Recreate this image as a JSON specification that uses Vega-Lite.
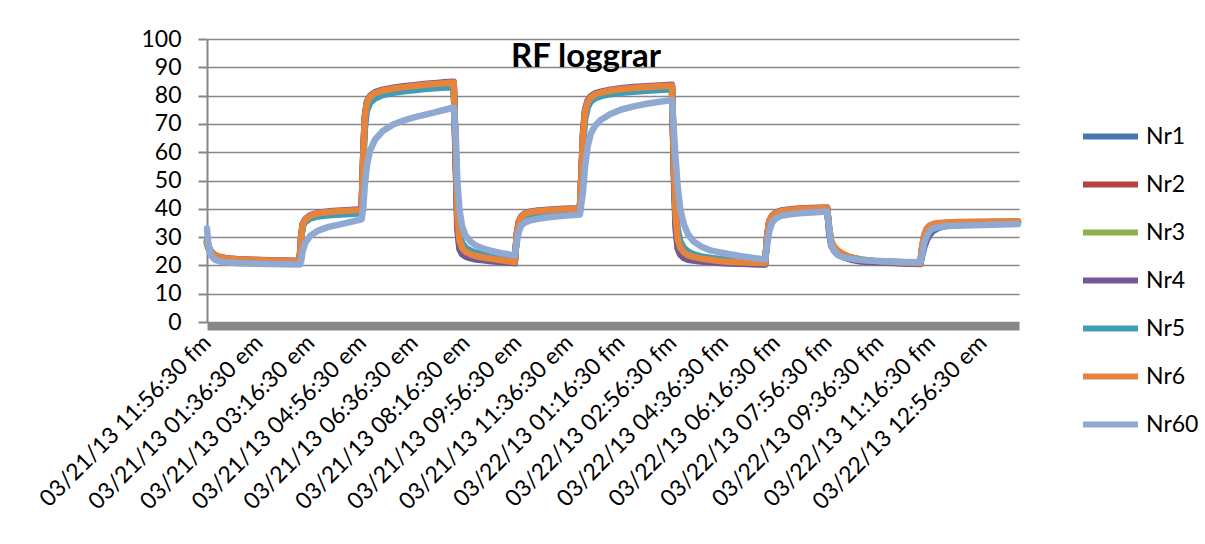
{
  "$schema": "https://vega.github.io/schema/vega-lite/v6.json",
  "width": 812,
  "height": 283,
  "autosize": {"type": "none"},
  "padding": {"left": 207, "top": 39, "right": 186, "bottom": 222},
  "background": "#ffffff",
  "title": {
    "text": "RF loggrar",
    "font": "Lato",
    "fontSize": 33,
    "fontWeight": "bold",
    "color": "#000000",
    "anchor": "start",
    "frame": "group",
    "baseline": "top",
    "dx": 304,
    "offset": -46
  },
  "config": {
    "view": {"stroke": null},
    "font": "Lato"
  },
  "data": {
    "values": [
      {"t": "2013-03-21T11:56:30", "Nr1": 28.2, "Nr2": 28.4, "Nr3": 27.5, "Nr4": 28.8, "Nr5": 28, "Nr6": 28.5, "Nr60": 33},
      {"t": "2013-03-21T11:59:30", "Nr1": 26.2, "Nr2": 26.4, "Nr3": 26, "Nr4": 26.6, "Nr5": 26, "Nr6": 26.5, "Nr60": 27},
      {"t": "2013-03-21T12:04:30", "Nr1": 24.5, "Nr2": 24.7, "Nr3": 24.4, "Nr4": 24.9, "Nr5": 24.5, "Nr6": 24.8, "Nr60": 23.5},
      {"t": "2013-03-21T12:11:30", "Nr1": 23.3, "Nr2": 23.5, "Nr3": 23.2, "Nr4": 23.7, "Nr5": 23.3, "Nr6": 23.6, "Nr60": 22},
      {"t": "2013-03-21T12:21:30", "Nr1": 22.6, "Nr2": 22.8, "Nr3": 22.5, "Nr4": 23.0, "Nr5": 22.6, "Nr6": 22.9, "Nr60": 21.4},
      {"t": "2013-03-21T12:36:30", "Nr1": 22.1, "Nr2": 22.3, "Nr3": 22.0, "Nr4": 22.5, "Nr5": 22.2, "Nr6": 22.4, "Nr60": 21.0},
      {"t": "2013-03-21T12:56:30", "Nr1": 21.8, "Nr2": 22.0, "Nr3": 21.7, "Nr4": 22.2, "Nr5": 21.9, "Nr6": 22.1, "Nr60": 20.8},
      {"t": "2013-03-21T13:26:30", "Nr1": 21.6, "Nr2": 21.8, "Nr3": 21.5, "Nr4": 22.0, "Nr5": 21.7, "Nr6": 21.9, "Nr60": 20.6},
      {"t": "2013-03-21T13:56:30", "Nr1": 21.4, "Nr2": 21.6, "Nr3": 21.3, "Nr4": 21.8, "Nr5": 21.5, "Nr6": 21.7, "Nr60": 20.5},
      {"t": "2013-03-21T14:26:30", "Nr1": 21.3, "Nr2": 21.5, "Nr3": 21.2, "Nr4": 21.7, "Nr5": 21.4, "Nr6": 21.6, "Nr60": 20.4},
      {"t": "2013-03-21T14:55:30", "Nr1": 21.2, "Nr2": 21.4, "Nr3": 21.1, "Nr4": 21.6, "Nr5": 21.3, "Nr6": 21.5, "Nr60": 20.3},
      {"t": "2013-03-21T14:58:30", "Nr1": 29.5, "Nr2": 30, "Nr3": 29.6, "Nr4": 30.3, "Nr5": 29.3, "Nr6": 30, "Nr60": 21.5},
      {"t": "2013-03-21T15:01:30", "Nr1": 34.2, "Nr2": 34.4, "Nr3": 34.1, "Nr4": 34.7, "Nr5": 33.8, "Nr6": 34.5, "Nr60": 25},
      {"t": "2013-03-21T15:06:30", "Nr1": 35.9, "Nr2": 36.1, "Nr3": 35.8, "Nr4": 36.4, "Nr5": 35.3, "Nr6": 36.2, "Nr60": 28},
      {"t": "2013-03-21T15:16:30", "Nr1": 37.3, "Nr2": 37.5, "Nr3": 37.2, "Nr4": 37.8, "Nr5": 36.6, "Nr6": 37.6, "Nr60": 30.5},
      {"t": "2013-03-21T15:31:30", "Nr1": 38.1, "Nr2": 38.3, "Nr3": 38.0, "Nr4": 38.6, "Nr5": 37.3, "Nr6": 38.4, "Nr60": 32.3},
      {"t": "2013-03-21T15:51:30", "Nr1": 38.6, "Nr2": 38.8, "Nr3": 38.5, "Nr4": 39.1, "Nr5": 37.7, "Nr6": 38.9, "Nr60": 33.6},
      {"t": "2013-03-21T16:16:30", "Nr1": 38.9, "Nr2": 39.1, "Nr3": 38.8, "Nr4": 39.4, "Nr5": 38.0, "Nr6": 39.2, "Nr60": 34.6},
      {"t": "2013-03-21T16:55:30", "Nr1": 39.3, "Nr2": 39.5, "Nr3": 39.2, "Nr4": 39.8, "Nr5": 38.4, "Nr6": 39.6, "Nr60": 36.3},
      {"t": "2013-03-21T16:58:30", "Nr1": 57, "Nr2": 58, "Nr3": 57.5, "Nr4": 59, "Nr5": 54, "Nr6": 58, "Nr60": 40},
      {"t": "2013-03-21T17:01:30", "Nr1": 71.5, "Nr2": 72, "Nr3": 71.5, "Nr4": 72.5, "Nr5": 68, "Nr6": 72, "Nr60": 48},
      {"t": "2013-03-21T17:05:30", "Nr1": 77.2, "Nr2": 77.4, "Nr3": 77.1, "Nr4": 77.8, "Nr5": 74.5, "Nr6": 77.5, "Nr60": 55},
      {"t": "2013-03-21T17:11:30", "Nr1": 79.3, "Nr2": 79.5, "Nr3": 79.2, "Nr4": 79.9, "Nr5": 77.3, "Nr6": 79.6, "Nr60": 60.5},
      {"t": "2013-03-21T17:21:30", "Nr1": 80.6, "Nr2": 80.8, "Nr3": 80.5, "Nr4": 81.2, "Nr5": 79.0, "Nr6": 80.9, "Nr60": 64.5},
      {"t": "2013-03-21T17:36:30", "Nr1": 81.5, "Nr2": 81.7, "Nr3": 81.4, "Nr4": 82.1, "Nr5": 80.2, "Nr6": 81.8, "Nr60": 67.5},
      {"t": "2013-03-21T17:56:30", "Nr1": 82.2, "Nr2": 82.4, "Nr3": 82.1, "Nr4": 82.8, "Nr5": 81.0, "Nr6": 82.5, "Nr60": 69.8},
      {"t": "2013-03-21T18:16:30", "Nr1": 82.7, "Nr2": 82.9, "Nr3": 82.6, "Nr4": 83.3, "Nr5": 81.5, "Nr6": 83.0, "Nr60": 71.2},
      {"t": "2013-03-21T18:36:30", "Nr1": 83.1, "Nr2": 83.3, "Nr3": 83.0, "Nr4": 83.7, "Nr5": 81.9, "Nr6": 83.4, "Nr60": 72.3},
      {"t": "2013-03-21T18:56:30", "Nr1": 83.5, "Nr2": 83.7, "Nr3": 83.4, "Nr4": 84.1, "Nr5": 82.3, "Nr6": 83.8, "Nr60": 73.2},
      {"t": "2013-03-21T19:16:30", "Nr1": 83.8, "Nr2": 84.0, "Nr3": 83.7, "Nr4": 84.4, "Nr5": 82.6, "Nr6": 84.1, "Nr60": 74.1},
      {"t": "2013-03-21T19:36:30", "Nr1": 84.1, "Nr2": 84.3, "Nr3": 84.0, "Nr4": 84.7, "Nr5": 82.9, "Nr6": 84.4, "Nr60": 75.0},
      {"t": "2013-03-21T19:53:30", "Nr1": 84.3, "Nr2": 84.5, "Nr3": 84.2, "Nr4": 84.9, "Nr5": 83.1, "Nr6": 84.6, "Nr60": 75.8},
      {"t": "2013-03-21T19:57:30", "Nr1": 57, "Nr2": 59, "Nr3": 58.5, "Nr4": 55, "Nr5": 62, "Nr6": 60, "Nr60": 66},
      {"t": "2013-03-21T20:00:30", "Nr1": 35, "Nr2": 37.5, "Nr3": 37, "Nr4": 33, "Nr5": 42, "Nr6": 38, "Nr60": 50},
      {"t": "2013-03-21T20:04:30", "Nr1": 27, "Nr2": 28.6, "Nr3": 28.2, "Nr4": 25.8, "Nr5": 32, "Nr6": 29, "Nr60": 40},
      {"t": "2013-03-21T20:09:30", "Nr1": 24.8, "Nr2": 25.8, "Nr3": 25.5, "Nr4": 24, "Nr5": 28, "Nr6": 26.2, "Nr60": 34},
      {"t": "2013-03-21T20:16:30", "Nr1": 23.7, "Nr2": 24.4, "Nr3": 24.2, "Nr4": 23.1, "Nr5": 26.3, "Nr6": 24.8, "Nr60": 30.5},
      {"t": "2013-03-21T20:26:30", "Nr1": 23.0, "Nr2": 23.5, "Nr3": 23.3, "Nr4": 22.5, "Nr5": 25.2, "Nr6": 23.9, "Nr60": 28.3},
      {"t": "2013-03-21T20:36:30", "Nr1": 22.6, "Nr2": 23.0, "Nr3": 22.8, "Nr4": 22.1, "Nr5": 24.5, "Nr6": 23.3, "Nr60": 27},
      {"t": "2013-03-21T20:51:30", "Nr1": 22.2, "Nr2": 22.5, "Nr3": 22.3, "Nr4": 21.8, "Nr5": 23.8, "Nr6": 22.8, "Nr60": 25.9},
      {"t": "2013-03-21T21:06:30", "Nr1": 21.8, "Nr2": 22.1, "Nr3": 21.9, "Nr4": 21.5, "Nr5": 23.2, "Nr6": 22.3, "Nr60": 25.1},
      {"t": "2013-03-21T21:26:30", "Nr1": 21.4, "Nr2": 21.6, "Nr3": 21.4, "Nr4": 21.2, "Nr5": 22.6, "Nr6": 21.8, "Nr60": 24.3},
      {"t": "2013-03-21T21:51:30", "Nr1": 20.9, "Nr2": 21.1, "Nr3": 20.9, "Nr4": 20.8, "Nr5": 22.0, "Nr6": 21.2, "Nr60": 23.5},
      {"t": "2013-03-21T21:55:30", "Nr1": 30.5, "Nr2": 31, "Nr3": 30.6, "Nr4": 31.3, "Nr5": 30, "Nr6": 31, "Nr60": 28},
      {"t": "2013-03-21T21:59:30", "Nr1": 35.2, "Nr2": 35.4, "Nr3": 35.1, "Nr4": 35.7, "Nr5": 34.7, "Nr6": 35.5, "Nr60": 32},
      {"t": "2013-03-21T22:04:30", "Nr1": 36.9, "Nr2": 37.1, "Nr3": 36.8, "Nr4": 37.4, "Nr5": 36.5, "Nr6": 37.2, "Nr60": 34.2},
      {"t": "2013-03-21T22:11:30", "Nr1": 37.9, "Nr2": 38.1, "Nr3": 37.8, "Nr4": 38.4, "Nr5": 37.5, "Nr6": 38.2, "Nr60": 35.2},
      {"t": "2013-03-21T22:21:30", "Nr1": 38.5, "Nr2": 38.7, "Nr3": 38.4, "Nr4": 39.0, "Nr5": 38.1, "Nr6": 38.8, "Nr60": 35.9},
      {"t": "2013-03-21T22:36:30", "Nr1": 38.9, "Nr2": 39.1, "Nr3": 38.8, "Nr4": 39.4, "Nr5": 38.5, "Nr6": 39.2, "Nr60": 36.5},
      {"t": "2013-03-21T22:56:30", "Nr1": 39.2, "Nr2": 39.4, "Nr3": 39.1, "Nr4": 39.7, "Nr5": 38.8, "Nr6": 39.5, "Nr60": 37.0},
      {"t": "2013-03-21T23:26:30", "Nr1": 39.5, "Nr2": 39.7, "Nr3": 39.4, "Nr4": 40.0, "Nr5": 39.1, "Nr6": 39.8, "Nr60": 37.5},
      {"t": "2013-03-21T23:57:30", "Nr1": 39.7, "Nr2": 39.9, "Nr3": 39.6, "Nr4": 40.2, "Nr5": 39.3, "Nr6": 40.0, "Nr60": 38.0},
      {"t": "2013-03-22T00:00:30", "Nr1": 51, "Nr2": 52, "Nr3": 51.5, "Nr4": 53, "Nr5": 49, "Nr6": 52, "Nr60": 42},
      {"t": "2013-03-22T00:03:30", "Nr1": 65.5, "Nr2": 66, "Nr3": 65.5, "Nr4": 67, "Nr5": 62, "Nr6": 66, "Nr60": 46},
      {"t": "2013-03-22T00:07:30", "Nr1": 74.2, "Nr2": 74.4, "Nr3": 74.1, "Nr4": 75.2, "Nr5": 71.5, "Nr6": 74.5, "Nr60": 55},
      {"t": "2013-03-22T00:12:30", "Nr1": 77.5, "Nr2": 77.7, "Nr3": 77.4, "Nr4": 78.3, "Nr5": 75.8, "Nr6": 77.8, "Nr60": 62},
      {"t": "2013-03-22T00:18:30", "Nr1": 79.1, "Nr2": 79.3, "Nr3": 79.0, "Nr4": 79.8, "Nr5": 77.9, "Nr6": 79.4, "Nr60": 66.5},
      {"t": "2013-03-22T00:26:30", "Nr1": 80.1, "Nr2": 80.3, "Nr3": 80.0, "Nr4": 80.8, "Nr5": 79.0, "Nr6": 80.4, "Nr60": 69.3},
      {"t": "2013-03-22T00:38:30", "Nr1": 80.8, "Nr2": 81.0, "Nr3": 80.7, "Nr4": 81.4, "Nr5": 79.8, "Nr6": 81.1, "Nr60": 71.5},
      {"t": "2013-03-22T00:56:30", "Nr1": 81.5, "Nr2": 81.7, "Nr3": 81.4, "Nr4": 82.1, "Nr5": 80.5, "Nr6": 81.8, "Nr60": 73.5},
      {"t": "2013-03-22T01:16:30", "Nr1": 82.0, "Nr2": 82.2, "Nr3": 81.9, "Nr4": 82.6, "Nr5": 81.0, "Nr6": 82.3, "Nr60": 75.0},
      {"t": "2013-03-22T01:41:30", "Nr1": 82.4, "Nr2": 82.6, "Nr3": 82.3, "Nr4": 83.0, "Nr5": 81.4, "Nr6": 82.7, "Nr60": 76.2},
      {"t": "2013-03-22T02:06:30", "Nr1": 82.7, "Nr2": 82.9, "Nr3": 82.6, "Nr4": 83.3, "Nr5": 81.7, "Nr6": 83.0, "Nr60": 77.1},
      {"t": "2013-03-22T02:31:30", "Nr1": 83.0, "Nr2": 83.2, "Nr3": 82.9, "Nr4": 83.6, "Nr5": 82.0, "Nr6": 83.3, "Nr60": 77.8},
      {"t": "2013-03-22T02:55:30", "Nr1": 83.2, "Nr2": 83.4, "Nr3": 83.1, "Nr4": 83.8, "Nr5": 82.2, "Nr6": 83.5, "Nr60": 78.4},
      {"t": "2013-03-22T02:59:30", "Nr1": 52, "Nr2": 54, "Nr3": 53.5, "Nr4": 50, "Nr5": 60, "Nr6": 55, "Nr60": 67},
      {"t": "2013-03-22T03:02:30", "Nr1": 35, "Nr2": 37.5, "Nr3": 37, "Nr4": 33, "Nr5": 44, "Nr6": 38, "Nr60": 58},
      {"t": "2013-03-22T03:06:30", "Nr1": 27.5, "Nr2": 29, "Nr3": 28.6, "Nr4": 26, "Nr5": 33, "Nr6": 29.5, "Nr60": 48},
      {"t": "2013-03-22T03:11:30", "Nr1": 24.8, "Nr2": 25.9, "Nr3": 25.6, "Nr4": 23.8, "Nr5": 28.5, "Nr6": 26.3, "Nr60": 40},
      {"t": "2013-03-22T03:18:30", "Nr1": 23.4, "Nr2": 24.2, "Nr3": 24.0, "Nr4": 22.6, "Nr5": 26.2, "Nr6": 24.6, "Nr60": 34.5},
      {"t": "2013-03-22T03:26:30", "Nr1": 22.6, "Nr2": 23.3, "Nr3": 23.1, "Nr4": 22.0, "Nr5": 24.9, "Nr6": 23.6, "Nr60": 31},
      {"t": "2013-03-22T03:36:30", "Nr1": 22.2, "Nr2": 22.7, "Nr3": 22.5, "Nr4": 21.7, "Nr5": 24.0, "Nr6": 23.0, "Nr60": 28.6},
      {"t": "2013-03-22T03:51:30", "Nr1": 21.8, "Nr2": 22.2, "Nr3": 22.0, "Nr4": 21.4, "Nr5": 23.2, "Nr6": 22.4, "Nr60": 26.7},
      {"t": "2013-03-22T04:11:30", "Nr1": 21.4, "Nr2": 21.7, "Nr3": 21.5, "Nr4": 21.1, "Nr5": 22.6, "Nr6": 21.9, "Nr60": 25.2},
      {"t": "2013-03-22T04:36:30", "Nr1": 21.0, "Nr2": 21.3, "Nr3": 21.1, "Nr4": 20.8, "Nr5": 22.1, "Nr6": 21.4, "Nr60": 24.3},
      {"t": "2013-03-22T05:06:30", "Nr1": 20.7, "Nr2": 21.0, "Nr3": 20.8, "Nr4": 20.6, "Nr5": 21.7, "Nr6": 21.1, "Nr60": 23.3},
      {"t": "2013-03-22T05:36:30", "Nr1": 20.5, "Nr2": 20.8, "Nr3": 20.6, "Nr4": 20.4, "Nr5": 21.4, "Nr6": 20.9, "Nr60": 22.5},
      {"t": "2013-03-22T05:55:30", "Nr1": 20.4, "Nr2": 20.7, "Nr3": 20.5, "Nr4": 20.3, "Nr5": 21.2, "Nr6": 20.8, "Nr60": 22.1},
      {"t": "2013-03-22T05:59:30", "Nr1": 29.5, "Nr2": 30, "Nr3": 29.6, "Nr4": 30.3, "Nr5": 29, "Nr6": 30, "Nr60": 27},
      {"t": "2013-03-22T06:03:30", "Nr1": 35.2, "Nr2": 35.4, "Nr3": 35.1, "Nr4": 35.7, "Nr5": 34.5, "Nr6": 35.5, "Nr60": 32},
      {"t": "2013-03-22T06:09:30", "Nr1": 37.2, "Nr2": 37.4, "Nr3": 37.1, "Nr4": 37.7, "Nr5": 36.8, "Nr6": 37.5, "Nr60": 35.3},
      {"t": "2013-03-22T06:16:30", "Nr1": 38.2, "Nr2": 38.4, "Nr3": 38.1, "Nr4": 38.7, "Nr5": 37.8, "Nr6": 38.5, "Nr60": 36.6},
      {"t": "2013-03-22T06:26:30", "Nr1": 38.9, "Nr2": 39.1, "Nr3": 38.8, "Nr4": 39.4, "Nr5": 38.5, "Nr6": 39.2, "Nr60": 37.5},
      {"t": "2013-03-22T06:41:30", "Nr1": 39.3, "Nr2": 39.5, "Nr3": 39.2, "Nr4": 39.8, "Nr5": 39.0, "Nr6": 39.6, "Nr60": 38.0},
      {"t": "2013-03-22T07:01:30", "Nr1": 39.6, "Nr2": 39.8, "Nr3": 39.5, "Nr4": 40.1, "Nr5": 39.3, "Nr6": 39.9, "Nr60": 38.4},
      {"t": "2013-03-22T07:26:30", "Nr1": 39.8, "Nr2": 40.0, "Nr3": 39.7, "Nr4": 40.3, "Nr5": 39.6, "Nr6": 40.1, "Nr60": 38.7},
      {"t": "2013-03-22T07:55:30", "Nr1": 40.0, "Nr2": 40.2, "Nr3": 39.9, "Nr4": 40.5, "Nr5": 39.8, "Nr6": 40.3, "Nr60": 39.0},
      {"t": "2013-03-22T07:59:30", "Nr1": 32, "Nr2": 33, "Nr3": 32.5, "Nr4": 31.5, "Nr5": 33, "Nr6": 33, "Nr60": 33},
      {"t": "2013-03-22T08:03:30", "Nr1": 27.5, "Nr2": 28.2, "Nr3": 28, "Nr4": 27, "Nr5": 28, "Nr6": 28.5, "Nr60": 27.5},
      {"t": "2013-03-22T08:08:30", "Nr1": 25.8, "Nr2": 26.5, "Nr3": 26.2, "Nr4": 25.3, "Nr5": 26.2, "Nr6": 26.8, "Nr60": 25.2},
      {"t": "2013-03-22T08:16:30", "Nr1": 24.3, "Nr2": 24.9, "Nr3": 24.7, "Nr4": 23.8, "Nr5": 24.8, "Nr6": 25.2, "Nr60": 23.6},
      {"t": "2013-03-22T08:26:30", "Nr1": 23.3, "Nr2": 23.8, "Nr3": 23.6, "Nr4": 22.9, "Nr5": 23.8, "Nr6": 24.0, "Nr60": 22.9},
      {"t": "2013-03-22T08:41:30", "Nr1": 22.3, "Nr2": 22.7, "Nr3": 22.5, "Nr4": 22.0, "Nr5": 22.8, "Nr6": 22.8, "Nr60": 22.3},
      {"t": "2013-03-22T09:01:30", "Nr1": 21.6, "Nr2": 21.9, "Nr3": 21.8, "Nr4": 21.4, "Nr5": 22.1, "Nr6": 22.0, "Nr60": 21.9},
      {"t": "2013-03-22T09:26:30", "Nr1": 21.3, "Nr2": 21.5, "Nr3": 21.4, "Nr4": 21.1, "Nr5": 21.6, "Nr6": 21.6, "Nr60": 21.6},
      {"t": "2013-03-22T09:56:30", "Nr1": 21.0, "Nr2": 21.2, "Nr3": 21.1, "Nr4": 20.9, "Nr5": 21.3, "Nr6": 21.3, "Nr60": 21.4},
      {"t": "2013-03-22T10:26:30", "Nr1": 20.8, "Nr2": 20.9, "Nr3": 20.8, "Nr4": 20.7, "Nr5": 21.1, "Nr6": 21.0, "Nr60": 21.2},
      {"t": "2013-03-22T10:55:30", "Nr1": 20.6, "Nr2": 20.7, "Nr3": 20.6, "Nr4": 20.5, "Nr5": 20.9, "Nr6": 20.8, "Nr60": 21.1},
      {"t": "2013-03-22T10:59:30", "Nr1": 23.5, "Nr2": 26.5, "Nr3": 26.5, "Nr4": 24.5, "Nr5": 26.5, "Nr6": 27, "Nr60": 24},
      {"t": "2013-03-22T11:03:30", "Nr1": 26.5, "Nr2": 30.5, "Nr3": 30.5, "Nr4": 27.5, "Nr5": 30.5, "Nr6": 31, "Nr60": 28},
      {"t": "2013-03-22T11:08:30", "Nr1": 29, "Nr2": 32.8, "Nr3": 32.8, "Nr4": 30, "Nr5": 32.7, "Nr6": 33.2, "Nr60": 30.6},
      {"t": "2013-03-22T11:14:30", "Nr1": 31, "Nr2": 33.9, "Nr3": 33.9, "Nr4": 31.8, "Nr5": 33.8, "Nr6": 34.2, "Nr60": 32.3},
      {"t": "2013-03-22T11:21:30", "Nr1": 32.3, "Nr2": 34.5, "Nr3": 34.4, "Nr4": 33, "Nr5": 34.3, "Nr6": 34.7, "Nr60": 33.1},
      {"t": "2013-03-22T11:31:30", "Nr1": 33.3, "Nr2": 34.8, "Nr3": 34.7, "Nr4": 33.8, "Nr5": 34.7, "Nr6": 35.0, "Nr60": 33.6},
      {"t": "2013-03-22T11:46:30", "Nr1": 34.0, "Nr2": 35.0, "Nr3": 34.9, "Nr4": 34.4, "Nr5": 34.9, "Nr6": 35.2, "Nr60": 33.9},
      {"t": "2013-03-22T12:06:30", "Nr1": 34.4, "Nr2": 35.1, "Nr3": 35.0, "Nr4": 34.8, "Nr5": 35.0, "Nr6": 35.3, "Nr60": 34.0},
      {"t": "2013-03-22T12:36:30", "Nr1": 34.7, "Nr2": 35.2, "Nr3": 35.1, "Nr4": 35.0, "Nr5": 35.1, "Nr6": 35.4, "Nr60": 34.2},
      {"t": "2013-03-22T13:16:30", "Nr1": 34.9, "Nr2": 35.3, "Nr3": 35.2, "Nr4": 35.2, "Nr5": 35.2, "Nr6": 35.5, "Nr60": 34.4},
      {"t": "2013-03-22T14:04:30", "Nr1": 35.1, "Nr2": 35.4, "Nr3": 35.3, "Nr4": 35.4, "Nr5": 35.3, "Nr6": 35.6, "Nr60": 34.6}
    ]
  },
  "transform": [
    {"fold": ["Nr1", "Nr2", "Nr3", "Nr4", "Nr5", "Nr6", "Nr60"], "as": ["series", "value"]}
  ],
  "mark": {"type": "line", "strokeWidth": 6.5, "strokeJoin": "round", "strokeCap": "round"},
  "encoding": {
    "x": {
      "field": "t",
      "type": "temporal",
      "scale": {"domain": [
        {"year": 2013, "month": 3, "date": 21, "hours": 11, "minutes": 56, "seconds": 30},
        {"year": 2013, "month": 3, "date": 22, "hours": 14, "minutes": 6, "seconds": 30}
      ]},
      "axis": {
        "title": null,
        "values": [
          {"year": 2013, "month": 3, "date": 21, "hours": 11, "minutes": 56, "seconds": 30},
          {"year": 2013, "month": 3, "date": 21, "hours": 13, "minutes": 36, "seconds": 30},
          {"year": 2013, "month": 3, "date": 21, "hours": 15, "minutes": 16, "seconds": 30},
          {"year": 2013, "month": 3, "date": 21, "hours": 16, "minutes": 56, "seconds": 30},
          {"year": 2013, "month": 3, "date": 21, "hours": 18, "minutes": 36, "seconds": 30},
          {"year": 2013, "month": 3, "date": 21, "hours": 20, "minutes": 16, "seconds": 30},
          {"year": 2013, "month": 3, "date": 21, "hours": 21, "minutes": 56, "seconds": 30},
          {"year": 2013, "month": 3, "date": 21, "hours": 23, "minutes": 36, "seconds": 30},
          {"year": 2013, "month": 3, "date": 22, "hours": 1, "minutes": 16, "seconds": 30},
          {"year": 2013, "month": 3, "date": 22, "hours": 2, "minutes": 56, "seconds": 30},
          {"year": 2013, "month": 3, "date": 22, "hours": 4, "minutes": 36, "seconds": 30},
          {"year": 2013, "month": 3, "date": 22, "hours": 6, "minutes": 16, "seconds": 30},
          {"year": 2013, "month": 3, "date": 22, "hours": 7, "minutes": 56, "seconds": 30},
          {"year": 2013, "month": 3, "date": 22, "hours": 9, "minutes": 36, "seconds": 30},
          {"year": 2013, "month": 3, "date": 22, "hours": 11, "minutes": 16, "seconds": 30},
          {"year": 2013, "month": 3, "date": 22, "hours": 12, "minutes": 56, "seconds": 30}
        ],
        "labelExpr": "replace(replace(timeFormat(datum.value, '%m/%d/%y %I:%M:%S %p'), 'AM', 'fm'), 'PM', 'em')",
        "grid": false,
        "ticks": false,
        "domainColor": "#878787",
        "domainWidth": 8,
        "offset": 4,
        "labelAngle": -45,
        "labelAlign": "right",
        "labelBaseline": "middle",
        "labelFont": "Lato",
        "labelFontSize": 23,
        "labelColor": "#000000",
        "labelPadding": 13,
        "labelLimit": 0,
        "labelOverlap": false,
        "labelFlush": false,
        "labelBound": false
      }
    },
    "y": {
      "field": "value",
      "type": "quantitative",
      "scale": {"domain": [0, 100]},
      "axis": {
        "title": null,
        "values": [0, 10, 20, 30, 40, 50, 60, 70, 80, 90, 100],
        "tickSize": 9,
        "tickWidth": 2,
        "tickColor": "#878787",
        "domainColor": "#878787",
        "domainWidth": 2,
        "gridColor": "#878787",
        "gridWidth": 1.6,
        "labelFont": "Lato",
        "labelFontSize": 23,
        "labelColor": "#000000",
        "labelPadding": 17
      }
    },
    "color": {
      "field": "series",
      "type": "nominal",
      "scale": {
        "domain": ["Nr1", "Nr2", "Nr3", "Nr4", "Nr5", "Nr6", "Nr60"],
        "range": ["#4675B0", "#B3443F", "#8FB04E", "#735898", "#409DB7", "#E5843A", "#8FA9D2"]
      },
      "legend": {
        "title": null,
        "orient": "none",
        "legendX": 873,
        "legendY": 67,
        "symbolType": "stroke",
        "symbolSize": 3025,
        "symbolStrokeWidth": 6,
        "labelFont": "Lato",
        "labelFontSize": 23,
        "labelColor": "#000000",
        "labelOffset": 5,
        "rowPadding": 5
      }
    }
  }
}
